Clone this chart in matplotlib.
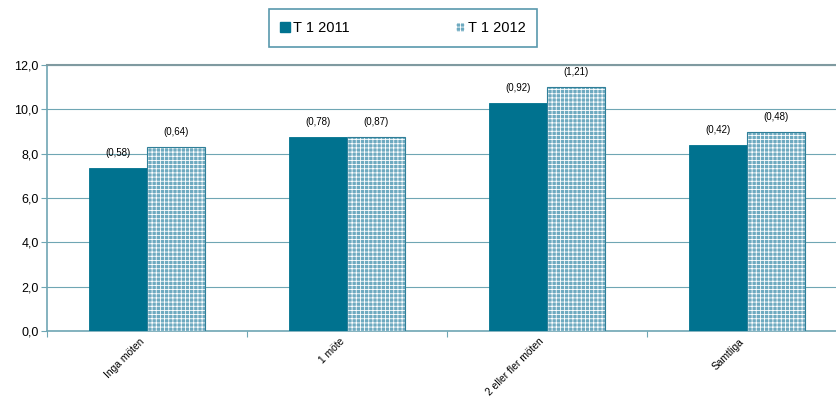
import matplotlib.pyplot as plt
import numpy as np
from matplotlib.patches import Patch

plt.rcParams['font.family'] = ['Liberation Sans', 'DejaVu Sans']
plt.rcParams['hatch.linewidth'] = 0.6

categories = ['Inga möten', '1 möte', '2 eller fler möten', 'Samtliga']
series_names = ['T 1 2011', 'T 1 2012']
values_2011 = [7.35, 8.75, 10.3, 8.4]
values_2012 = [8.3, 8.75, 11.0, 9.0]
ci_2011 = ['(0,58)', '(0,78)', '(0,92)', '(0,42)']
ci_2012 = ['(0,64)', '(0,87)', '(1,21)', '(0,48)']

dark = '#00728f'
light = '#6eaac0'
grid_col = '#6fa6b4'

fig = plt.figure(figsize=(8.36, 3.99), dpi=100)
ax = fig.add_axes([47 / 836, 68 / 399, 800 / 836, 266 / 399])

x = np.arange(len(categories))
w = 0.29

ax.bar(x - w / 2, values_2011, w, color=dark, edgecolor=dark, linewidth=0.6, zorder=3)
ax.bar(x + w / 2, values_2012, w, color=light, edgecolor='white', hatch='++++',
       linewidth=0, zorder=3)
ax.bar(x + w / 2, values_2012, w, fill=False, edgecolor='#2f7f98', linewidth=0.8, zorder=4)

for xi, v, t in zip(x - w / 2, values_2011, ci_2011):
    ax.text(xi, v + 0.45, t, ha='center', va='bottom', fontsize=7)
for xi, v, t in zip(x + w / 2, values_2012, ci_2012):
    ax.text(xi, v + 0.45, t, ha='center', va='bottom', fontsize=7)

ax.set_ylim(0, 12)
ax.set_xlim(-0.5, 3.5)
ax.set_yticks(np.arange(0, 12.1, 2))
ax.set_yticklabels([f'{v:.1f}'.replace('.', ',') for v in np.arange(0, 12.1, 2)], fontsize=9)
ax.yaxis.grid(True, color=grid_col, linewidth=0.8, zorder=0)
ax.set_axisbelow(True)

ax.set_xticks(np.arange(-0.5, 3.6, 1), minor=False)
ax.set_xticklabels([])
ax.tick_params(axis='x', length=4, color=grid_col, direction='out')
ax.tick_params(axis='y', length=4, color=grid_col, pad=2)
for xi, name in zip(x, categories):
    ax.text(xi - 0.04, -0.25, name, rotation=45, ha='right', va='top',
            fontsize=7.4, rotation_mode='anchor')

for s in ['left', 'bottom']:
    ax.spines[s].set_color(grid_col)
    ax.spines[s].set_linewidth(1.2)
ax.spines['right'].set_visible(False)
ax.spines['top'].set_color('#7f9aa0')
ax.spines['top'].set_linewidth(1.5)

handles = [Patch(facecolor=dark, edgecolor=dark),
           Patch(facecolor=light, edgecolor='white', hatch='++++')]
leg = fig.legend(handles, series_names, loc='center', bbox_to_anchor=(403 / 836, 1 - 28 / 399),
                 ncol=2, fontsize=10.5, frameon=True, fancybox=False, edgecolor='#2f7f98',
                 handlelength=0.7, handleheight=0.7, handletextpad=0.2, columnspacing=7.2,
                 borderpad=0.8)
leg.get_frame().set_linewidth(1.2)

fig.savefig('out.png', dpi=100)
